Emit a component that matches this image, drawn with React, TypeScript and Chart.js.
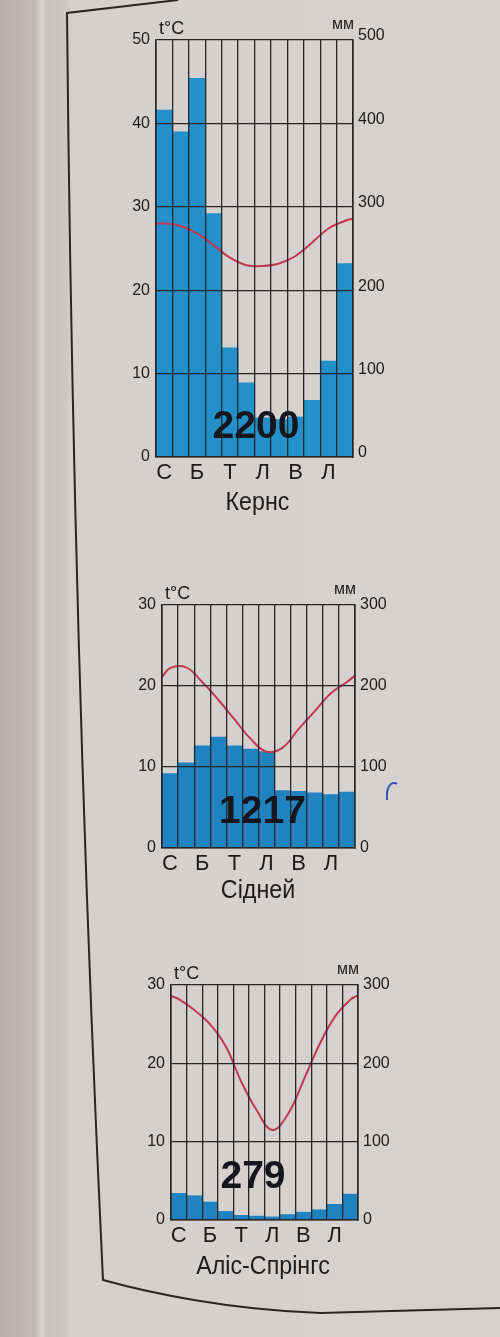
import React, { useEffect, useRef } from 'react';
import { Chart, registerables } from 'chart.js';

Chart.register(...registerables);

// ---------- data ----------
const monthLetters = ['С', 'Л', 'Б', 'К', 'Т', 'Ч', 'Л', 'С', 'В', 'Ж', 'Л', 'Г'];

const cairnsTempTicks = [0, 10, 20, 30, 40, 50];
const cairnsPrecipTicks = [0, 100, 200, 300, 400, 500];
const cairnsPrecip = [416, 390, 454, 292, 131, 89, 47, 45, 48, 68, 115, 232];
const cairnsTemp = [28.0, 27.7, 26.8, 25.4, 23.9, 23.0, 22.9, 23.2, 24.1, 25.7, 27.4, 28.3];
const cairnsTempEdges = [28.0, 28.6];
const cairnsTotal = '2200';
const cairnsName = 'Кернс';

const sydneyTempTicks = [0, 10, 20, 30];
const sydneyPrecipTicks = [0, 100, 200, 300];
const sydneyPrecip = [92, 105, 126, 137, 126, 122, 119, 71, 70, 68, 66, 69];
const sydneyTemp = [22.2, 22.3, 20.5, 18.3, 15.9, 13.5, 11.9, 12.4, 14.7, 16.9, 19.1, 20.5];
const sydneyTempEdges = [21.1, 21.3];
const sydneyTotal = '1217';
const sydneyName = 'Сідней';

const aliceTempTicks = [0, 10, 20, 30];
const alicePrecipTicks = [0, 100, 200, 300];
const alicePrecip = [34, 31, 23, 11, 6, 5, 4, 7, 10, 13, 20, 33];
const aliceTemp = [28.2, 26.8, 25.0, 22.2, 17.7, 14.0, 11.5, 13.5, 17.8, 22.3, 25.9, 28.1];
const aliceTempEdges = [28.6, 28.7];
const aliceTotal = '279';
const aliceName = 'Аліс-Спрінгс';

// ---------- styles ----------
const GRID = '#262626';
const TEXT = '#1c1c1c';
const RED = '#c4374f';
const NARROW = '"Liberation Sans Narrow", "Liberation Sans", Arial, sans-serif';
const SANS = '"Liberation Sans", Arial, sans-serif';

const textPlugin = {
  id: 'climateText',
  afterDraw(chart: any, _args: any, o: any) {
    const { ctx, chartArea: a } = chart;
    ctx.save();
    ctx.fillStyle = TEXT;
    ctx.textBaseline = 'alphabetic';
    // t°C
    ctx.font = `18px ${SANS}`;
    ctx.textAlign = 'left';
    ctx.fillText('t°C', a.left + 3, a.top - 6);
    // мм
    ctx.font = `16px ${SANS}`;
    ctx.textAlign = 'right';
    ctx.fillText('мм', a.right + 1, a.top - 11);
    // total
    ctx.font = `bold 39px ${SANS}`;
    ctx.textAlign = 'center';
    ctx.textBaseline = 'middle';
    ctx.fillStyle = '#15151c';
    ctx.fillText(o.total, (a.left + a.right) / 2 + o.totalDx, a.bottom + o.totalDy);
    // title
    ctx.fillStyle = TEXT;
    ctx.textBaseline = 'alphabetic';
    ctx.font = `25px ${SANS}`;
    ctx.translate((a.left + a.right) / 2 + o.titleDx, a.bottom + o.titleDy);
    ctx.scale(0.93, 1);
    ctx.fillText(o.title, 0, 0);
    ctx.restore();
  },
};

type Cfg = {
  top: number;
  height: number;
  left: number;
  right: number;
  tempTicks: number[];
  precipTicks: number[];
  precip: number[];
  temp: number[];
  edges: number[];
  total: string;
  title: string;
  totalDx: number;
  totalDy: number;
  titleDx: number;
  titleDy: number;
  rightLabelOffset: number;
  barColor: string;
};

function makeConfig(p: Cfg): any {
  // temperature curve: month centres on the category axis (index i),
  // plus the readings at the left (-0.5) and right (11.5) plot edges
  const lineData = [
    { x: -0.5, y: p.edges[0] },
    ...p.temp.map((t, i) => ({ x: i, y: t })),
    { x: p.temp.length - 0.5, y: p.edges[1] },
  ];
  const tMin = p.tempTicks[0];
  const tMax = p.tempTicks[p.tempTicks.length - 1];
  const pMin = p.precipTicks[0];
  const pMax = p.precipTicks[p.precipTicks.length - 1];
  return {
    type: 'bar',
    data: {
      labels: monthLetters,
      datasets: [
        {
          type: 'line',
          data: lineData,
          parsing: false,
          xAxisID: 'x',
          yAxisID: 'y',
          borderColor: RED,
          borderWidth: 2,
          pointRadius: 0,
          tension: 0.4,
          fill: false,
          order: 0,
        },
        {
          type: 'bar',
          data: p.precip,
          xAxisID: 'x',
          yAxisID: 'y1',
          backgroundColor: p.barColor,
          borderWidth: 0,
          grouped: false,
          barPercentage: 1,
          categoryPercentage: 1,
          order: 1,
        },
      ],
    },
    options: {
      animation: false,
      responsive: false,
      events: [],
      layout: { padding: { top: 30, left: 0, right: 0, bottom: 0 } },
      plugins: {
        legend: { display: false },
        tooltip: { enabled: false },
        title: { display: false },
        climateText: {
          total: p.total,
          title: p.title,
          totalDx: p.totalDx,
          totalDy: p.totalDy,
          titleDx: p.titleDx,
          titleDy: p.titleDy,
        },
      },
      scales: {
        x: {
          type: 'category',
          position: 'bottom',
          offset: true,
          bounds: 'ticks',
          grid: { offset: true, color: GRID, lineWidth: 1.3, drawTicks: false, z: 1 },
          border: { display: true, color: GRID, width: 1.6, z: 1 },
          ticks: {
            autoSkip: false,
            maxRotation: 0,
            padding: 3,
            color: TEXT,
            font: { family: NARROW, size: 22 },
            callback: function (this: any, v: any, i: number) {
              return i % 2 === 0 ? this.getLabelForValue(v) : '';
            },
          },
          afterFit(s: any) {
            s.height = 60;
          },
        },
        y: {
          position: 'left',
          min: tMin,
          max: tMax,
          ticks: {
            stepSize: p.tempTicks[1] - p.tempTicks[0],
            padding: 6,
            color: TEXT,
            font: { family: SANS, size: 16 },
          },
          grid: { color: GRID, lineWidth: 1.3, drawTicks: false, z: 1 },
          border: { display: true, color: GRID, width: 1.6, z: 1 },
          afterFit(s: any) {
            s.width = p.left;
          },
        },
        y1: {
          position: 'right',
          min: pMin,
          max: pMax,
          ticks: {
            stepSize: p.precipTicks[1] - p.precipTicks[0],
            padding: 5,
            labelOffset: p.rightLabelOffset,
            color: TEXT,
            font: { family: SANS, size: 16 },
          },
          grid: { display: false, drawTicks: false },
          border: { display: true, color: GRID, width: 1.6, z: 1 },
          afterFit(s: any) {
            s.width = 500 - p.right;
          },
        },
      },
    },
    plugins: [textPlugin],
  };
}

function ClimateChart({ cfg }: { cfg: Cfg }) {
  const ref = useRef<HTMLCanvasElement>(null);
  useEffect(() => {
    const chart = new Chart(ref.current as HTMLCanvasElement, makeConfig(cfg));
    return () => chart.destroy();
  }, []);
  return (
    <canvas
      ref={ref}
      width={500}
      height={cfg.height}
      style={{ position: 'absolute', left: 0, top: cfg.top, width: 500, height: cfg.height }}
    />
  );
}

const charts: Cfg[] = [
  {
    top: 10, height: 507, left: 156, right: 353,
    tempTicks: cairnsTempTicks, precipTicks: cairnsPrecipTicks,
    precip: cairnsPrecip, temp: cairnsTemp, edges: cairnsTempEdges,
    total: cairnsTotal, title: cairnsName,
    totalDx: 1.5, totalDy: -30, titleDx: 3, titleDy: 53, rightLabelOffset: -4,
    barColor: '#2390cb',
  },
  {
    top: 575, height: 333, left: 162, right: 355,
    tempTicks: sydneyTempTicks, precipTicks: sydneyPrecipTicks,
    precip: sydneyPrecip, temp: sydneyTemp, edges: sydneyTempEdges,
    total: sydneyTotal, title: sydneyName,
    totalDx: 4, totalDy: -36, titleDx: -0.5, titleDy: 50, rightLabelOffset: 0,
    barColor: '#1f83c2',
  },
  {
    top: 955, height: 325, left: 171, right: 358,
    tempTicks: aliceTempTicks, precipTicks: alicePrecipTicks,
    precip: alicePrecip, temp: aliceTemp, edges: aliceTempEdges,
    total: aliceTotal, title: aliceName,
    totalDx: -11.5, totalDy: -43, titleDx: -1.5, titleDy: 54, rightLabelOffset: 0,
    barColor: '#1f83c2',
  },
];

export default function App() {
  return (
    <div
      style={{
        position: 'absolute',
        left: 0,
        top: 0,
        width: 500,
        height: 1337,
        overflow: 'hidden',
        background:
          'linear-gradient(to right, #b7b0ac 0px, #c1bbb7 36px, #d8d4d1 42px, #c6c1be 47px, #cbc7c4 66px, #d3d0ce 72px, #d5d2d0 100%)',
      }}
    >
      <svg
        width={500}
        height={1337}
        style={{ position: 'absolute', left: 0, top: 0 }}
      >
        <path
          d="M 178 0 L 67 13 Q 73 653 103 1280 C 150 1293 230 1310 320 1313 L 500 1308"
          fill="none"
          stroke="#2a2624"
          strokeWidth={2}
        />
        <path
          d="M 387 800 Q 386 788 391 784 Q 394 782 397 784"
          fill="none"
          stroke="#3552b8"
          strokeWidth={2}
        />
      </svg>
      {charts.map((c, i) => (
        <ClimateChart key={i} cfg={c} />
      ))}
    </div>
  );
}
